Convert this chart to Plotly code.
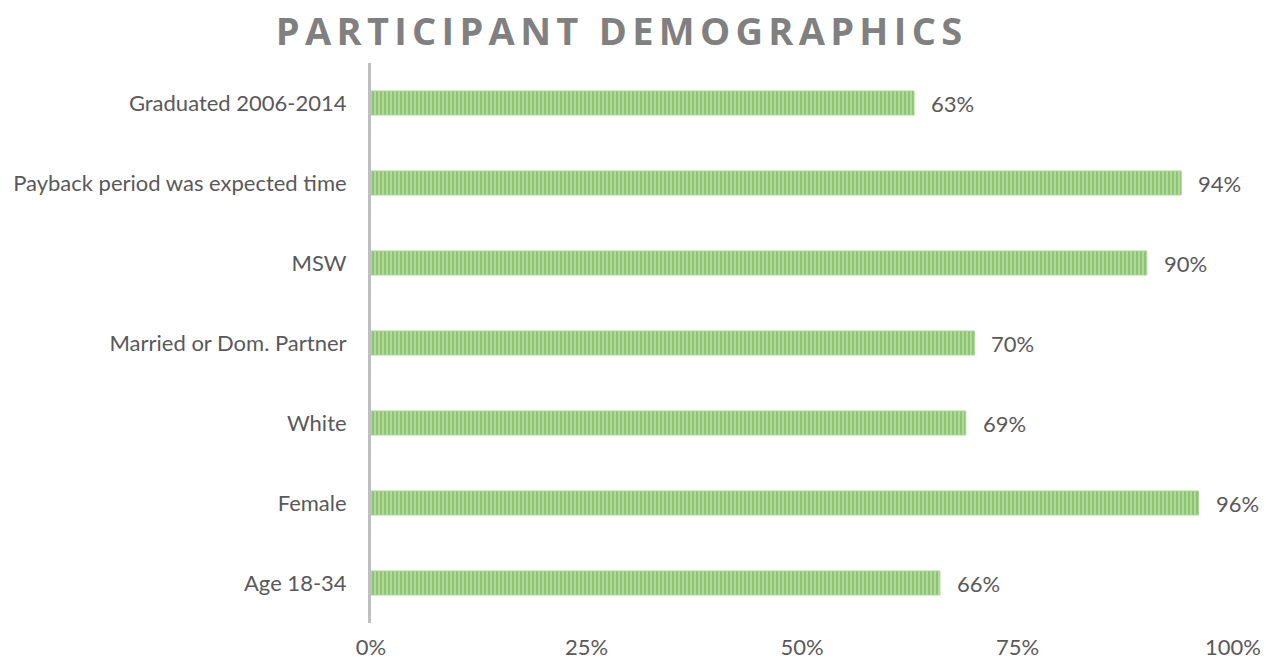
import plotly.graph_objects as go

# Survey demographic shares, listed bottom-to-top as drawn on the y axis
categories = [
    "Age 18-34",
    "Female",
    "White",
    "Married or Dom. Partner",
    "MSW",
    "Payback period was expected time",
    "Graduated 2006-2014",
]
shares = [0.66, 0.96, 0.69, 0.70, 0.90, 0.94, 0.63]
tick_values = [0, 0.25, 0.5, 0.75, 1.0]
tick_labels = ["0%", "25%", "50%", "75%", "100%"]

label_font = dict(family="Lato, 'Open Sans', sans-serif", size=22, color="#595959")

fig = go.Figure(
    go.Bar(
        x=shares,
        y=categories,
        orientation="h",
        marker=dict(
            color="#c0e2ab",
            line=dict(color="#aed596", width=1),
            pattern=dict(
                shape="|",
                fgcolor="#5aa63a",
                bgcolor="#c0e2ab",
                size=4,
                solidity=0.65,
                fillmode="overlay",
            ),
        ),
        hoverinfo="skip",
    )
)

# value labels just past the end of each bar
for cat, val in zip(categories, shares):
    fig.add_annotation(
        x=val,
        y=cat,
        text=f"{round(val * 100)}%",
        showarrow=False,
        xanchor="left",
        xshift=15,
        font=label_font,
    )

fig.update_layout(
    width=1266,
    height=665,
    margin=dict(l=371, r=33, t=63, b=42),
    paper_bgcolor="white",
    plot_bgcolor="white",
    bargap=0.7,
    showlegend=False,
    title=dict(
        text='<span style="letter-spacing:5.3px">PARTICIPANT DEMOGRAPHICS</span>',
        x=0.491,
        xanchor="center",
        y=0.952,
        yanchor="middle",
        font=dict(family="'Open Sans', sans-serif", size=38, color="#808080", weight="bold"),
    ),
)

fig.update_xaxes(
    range=[0, 1],
    tickvals=tick_values,
    ticktext=tick_labels,
    showgrid=False,
    zeroline=False,
    showline=False,
    ticks="",
    tickfont=label_font,
    ticklabelstandoff=9,
    automargin=False,
    fixedrange=True,
)

fig.update_yaxes(
    showgrid=False,
    zeroline=False,
    showline=True,
    linecolor="#bfbfbf",
    linewidth=3,
    ticks="",
    tickfont=label_font,
    ticklabelstandoff=17,
    automargin=False,
    fixedrange=True,
)

fig.write_html("out.html")
